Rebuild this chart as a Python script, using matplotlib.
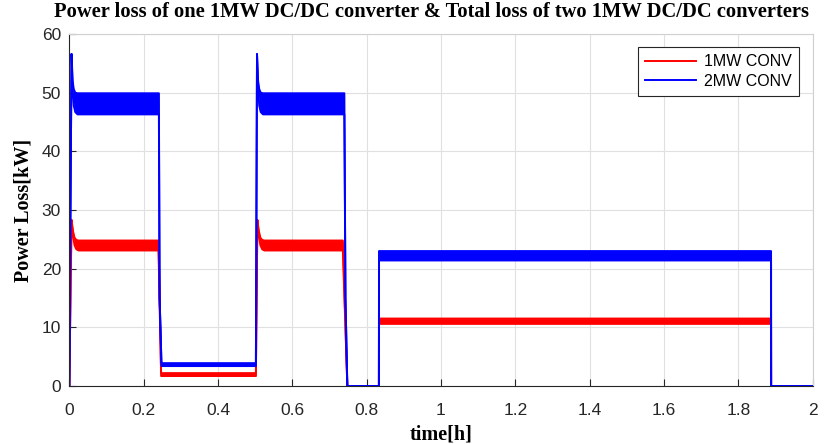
import matplotlib
matplotlib.use("Agg")
import matplotlib.pyplot as plt

# envelope (upper / lower) of the loss trace for the 1MW converter
t_1mw = [0, 0.006, 0.010, 0.014, 0.019, 0.025, 0.240, 0.247, 0.502,
         0.506, 0.510, 0.514, 0.519, 0.525, 0.736, 0.748, 0.833, 0.8332,
         1.888, 1.8882, 2.0]
hi_1mw = [0, 28.3, 26.4, 25.3, 24.9, 24.8, 24.8, 2.2, 2.2,
          28.3, 26.4, 25.3, 24.9, 24.8, 24.8, 0, 0, 11.5,
          11.5, 0, 0]
lo_1mw = [0, 28.3, 25.6, 24.0, 23.3, 23.1, 23.1, 1.7, 1.7,
          28.3, 25.6, 24.0, 23.3, 23.1, 23.1, 0, 0, 10.6,
          10.6, 0, 0]

# envelope of the total loss of two 1MW converters
t_2mw = [0, 0.006, 0.009, 0.012, 0.016, 0.022, 0.241, 0.243, 0.248, 0.502,
         0.505, 0.508, 0.511, 0.515, 0.521, 0.740, 0.743, 0.748, 0.833, 0.8332,
         1.888, 1.8882, 2.0]
hi_2mw = [0, 56.6, 52.0, 50.6, 50.0, 49.9, 49.9, 15, 3.9, 3.9,
          56.6, 52.0, 50.6, 50.0, 49.9, 49.9, 15, 0, 0, 23.0,
          23.0, 0, 0]
lo_2mw = [0, 56.6, 50.5, 47.8, 46.7, 46.3, 46.3, 15, 3.4, 3.4,
          56.6, 50.5, 47.8, 46.7, 46.3, 46.3, 15, 0, 0, 21.4,
          21.4, 0, 0]

x_ticks = [0, 0.2, 0.4, 0.6, 0.8, 1, 1.2, 1.4, 1.6, 1.8, 2]
x_labels = ["0", "0.2", "0.4", "0.6", "0.8", "1", "1.2", "1.4", "1.6", "1.8", "2"]
y_ticks = [0, 10, 20, 30, 40, 50, 60]

fig = plt.figure(figsize=(8.33, 4.44), dpi=100)
ax = fig.add_axes([0.0832, 0.1306, 0.8924, 0.7928])

series = [
    (t_1mw, hi_1mw, lo_1mw, "red", "1MW CONV"),
    (t_2mw, hi_2mw, lo_2mw, "blue", "2MW CONV"),
]
for t, hi, lo, col, name in series:
    ax.fill_between(t, lo, hi, color=col, linewidth=0)
    ax.plot(t, hi, color=col, lw=1.4, label=name)
    ax.plot(t, lo, color=col, lw=1.4)

ax.set_xlim(0, 2)
ax.set_ylim(0, 60)
ax.set_xticks(x_ticks)
ax.set_xticklabels(x_labels)
ax.set_yticks(y_ticks)
ax.grid(True, color="#e0e0e0", lw=0.8)
ax.set_axisbelow(True)

for side in ["left", "bottom"]:
    ax.spines[side].set_color("#262626")
    ax.spines[side].set_linewidth(0.8)
for side in ["top", "right"]:
    ax.spines[side].set_color("#d0d0d0")
    ax.spines[side].set_linewidth(0.8)

ax.tick_params(direction="in", length=5, width=0.8, color="#262626",
               labelcolor="#262626", labelsize=12.5)
ax.tick_params(axis="x", pad=12)
ax.tick_params(axis="y", pad=6)
for lab in ax.get_xticklabels() + ax.get_yticklabels():
    lab.set_family("Liberation Sans")

ax.set_title("Power loss of one 1MW DC/DC converter & Total loss of two 1MW DC/DC converters",
             family="Liberation Serif", fontweight="bold", fontsize=14.8, pad=12, x=0.487)
ax.set_xlabel("time[h]", family="Liberation Serif", fontweight="bold", fontsize=14.5, labelpad=5)
ax.set_ylabel("Power Loss[kW]", family="Liberation Serif", fontweight="bold", fontsize=14.5, labelpad=6)

leg = ax.legend(loc="upper right", bbox_to_anchor=(0.9816, 0.963), borderaxespad=0,
                fancybox=False, edgecolor="#262626", framealpha=1,
                prop={"family": "Liberation Sans", "size": 11.5},
                handlelength=3.2, handletextpad=0.5, borderpad=0.45, labelspacing=0.3)
leg.get_frame().set_linewidth(0.8)

fig.savefig("out.png", dpi=100)
